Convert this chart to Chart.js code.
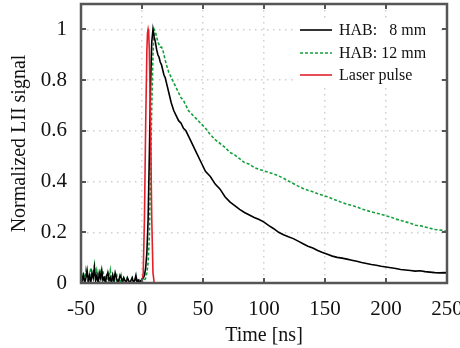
<!DOCTYPE html>
<html>
<head>
<meta charset="utf-8">
<script src="https://cdn.jsdelivr.net/npm/chart.js@4.4.1/dist/chart.umd.min.js"></script>
<style>
  html, body { margin: 0; padding: 0; background: #fff; }
</style>
</head>
<body>
<canvas id="lii-chart" width="460" height="348"></canvas>
<script>
// time axis shared by the two LII curves [ns]
const timeNs = [
  -50,-49,-48,-47,-46,-45,-44,-43,-42,-41,
  -40,-39,-38,-37,-36,-35,-34,-33,-32,-31,
  -30,-29,-28,-27,-26,-25,-24,-23,-22,-21,
  -20,-19,-18,-17,-16,-15,-14,-13,-12,-11,
  -10,-9,-8,-7,-6,-5,-4,-3,-2,-1,
  0,1,2,3,4,5,6,7,8,9,
  10,11,12,13,14,15,16,17,18,19,20,
  22,24,26,28,30,32,34,36,38,40,
  44,48,52,56,60,64,68,72,76,80,
  84,88,92,96,100,104,108,112,116,120,
  124,128,132,136,140,144,148,152,156,160,
  164,168,172,176,180,184,188,192,196,200,
  204,208,212,216,220,224,228,232,236,240,
  244,248,250
];

// HAB 8 mm
const hab8 = [
  0.04,0.01,0.03,0.00,0.02,0.05,0.01,0.03,0.00,0.04,
  0.02,0.06,0.01,0.03,0.00,0.04,0.02,0.05,0.01,0.02,
  0.00,0.03,0.04,0.01,0.02,0.00,0.03,0.01,0.04,0.02,
  0.00,0.01,0.03,0.02,0.00,0.02,0.01,0.00,0.02,0.01,
  0.00,0.01,0.02,0.00,0.01,0.03,0.00,0.01,0.00,0.01,
  0.01,0.02,0.03,0.06,0.12,0.25,0.50,0.78,0.95,1.00,
  0.97,0.95,0.92,0.90,0.89,0.87,0.86,0.84,0.82,0.81,0.79,
  0.75,0.71,0.68,0.66,0.64,0.63,0.61,0.60,0.58,0.56,
  0.52,0.48,0.44,0.42,0.39,0.37,0.34,0.32,0.305,0.29,
  0.278,0.268,0.258,0.25,0.24,0.226,0.214,0.20,0.19,0.182,
  0.175,0.165,0.155,0.145,0.138,0.128,0.12,0.113,0.106,0.101,
  0.098,0.094,0.09,0.086,0.081,0.077,0.073,0.07,0.066,0.063,
  0.06,0.057,0.053,0.051,0.049,0.047,0.048,0.045,0.043,0.041,
  0.04,0.041,0.04
];

// HAB 12 mm
const hab12 = [
  0.03,0.02,0.04,0.01,0.05,0.02,0.00,0.03,0.06,0.02,
  0.04,0.07,0.01,0.05,0.03,0.00,0.04,0.02,0.05,0.01,
  0.03,0.00,0.04,0.02,0.05,0.01,0.03,0.00,0.02,0.04,
  0.01,0.02,0.00,0.03,0.01,0.02,0.00,0.01,0.02,0.00,
  0.01,0.00,0.02,0.01,0.00,0.01,0.02,0.00,0.01,0.00,
  0.00,0.00,0.01,0.02,0.04,0.08,0.18,0.42,0.70,0.90,
  1.00,0.99,0.97,0.95,0.94,0.93,0.93,0.92,0.90,0.88,0.86,
  0.83,0.81,0.79,0.77,0.75,0.73,0.72,0.70,0.68,0.67,
  0.65,0.63,0.61,0.585,0.565,0.55,0.535,0.515,0.505,0.49,
  0.475,0.468,0.455,0.448,0.442,0.436,0.43,0.422,0.413,0.402,
  0.392,0.382,0.373,0.366,0.36,0.352,0.346,0.34,0.332,0.325,
  0.317,0.311,0.306,0.30,0.292,0.286,0.281,0.276,0.271,0.265,
  0.26,0.252,0.247,0.241,0.236,0.228,0.226,0.221,0.216,0.211,
  0.209,0.206,0.205
];

// laser pulse
const laserTime = [-50, 0, 1, 2, 3, 4, 4.5, 5, 5.5, 6, 7, 8, 9, 10, 250];
const laserPulse = [0, 0, 0.04, 0.25, 0.62, 0.92, 0.985, 1.0, 0.985, 0.92, 0.62, 0.25, 0.04, 0, 0];

const xTicks = [-50, 0, 50, 100, 150, 200, 250];
const yTicks = [0, 0.2, 0.4, 0.6, 0.8, 1];

const SERIF = "'Liberation Serif', 'DejaVu Serif', serif";

const toPoints = (xs, ys) => xs.map((x, i) => ({ x: x, y: ys[i] }));

// no extra room for overhanging tick labels, the plot box is fixed
const noPad = s => { s.paddingLeft = 0; s.paddingRight = 0; s.paddingTop = 0; s.paddingBottom = 0; };

// frame with inward ticks on all four sides
const framePlugin = {
    id: 'framePlugin',
    afterDatasetsDraw(chart) {
        const { ctx, chartArea: a, scales } = chart;
        const len = 5;
        ctx.save();
        ctx.strokeStyle = '#555';
        ctx.lineWidth = 2;
        ctx.beginPath();
        scales.x.ticks.forEach(t => {
            const px = Math.round(scales.x.getPixelForValue(t.value));
            ctx.moveTo(px, a.bottom); ctx.lineTo(px, a.bottom - len);
            ctx.moveTo(px, a.top); ctx.lineTo(px, a.top + len);
        });
        scales.y.ticks.forEach(t => {
            const py = Math.round(scales.y.getPixelForValue(t.value));
            ctx.moveTo(a.left, py); ctx.lineTo(a.left + len, py);
            ctx.moveTo(a.right, py); ctx.lineTo(a.right - len, py);
        });
        ctx.stroke();
        ctx.lineWidth = 2.5;
        ctx.strokeRect(a.left, a.top, a.right - a.left, a.bottom - a.top);
        ctx.restore();
    }
};

// legend drawn in the top right corner of the plot, on a white box
const legendPlugin = {
    id: 'legendPlugin',
    afterDraw(chart) {
        const { ctx } = chart;
        const rows = [30, 53, 75];
        ctx.save();
        ctx.fillStyle = '#fff';
        ctx.fillRect(296, 19, 145, 68);
        ctx.font = '16px ' + SERIF;
        ctx.textBaseline = 'middle';
        ctx.fillStyle = '#111';
        chart.data.datasets.forEach((ds, i) => {
            const y = rows[i];
            ctx.beginPath();
            ctx.strokeStyle = ds.borderColor;
            ctx.lineWidth = ds.borderWidth;
            ctx.setLineDash(ds.borderDash || []);
            ctx.moveTo(300, y);
            ctx.lineTo(332, y);
            ctx.stroke();
            ctx.setLineDash([]);
            ctx.fillText(ds.label, 339, y + 1);
        });
        ctx.restore();
    }
};

new Chart(document.getElementById('lii-chart'), {
    type: 'line',
    data: {
        datasets: [
            {
                label: 'HAB:   8 mm',
                data: toPoints(timeNs, hab8),
                borderColor: '#000000',
                borderWidth: 1.6,
                pointRadius: 0,
                order: 1
            },
            {
                label: 'HAB: 12 mm',
                data: toPoints(timeNs, hab12),
                borderColor: '#14a03c',
                borderWidth: 1.6,
                borderDash: [3, 2],
                pointRadius: 0,
                order: 2
            },
            {
                label: 'Laser pulse',
                data: toPoints(laserTime, laserPulse),
                borderColor: '#e3202a',
                borderWidth: 1.6,
                pointRadius: 0,
                order: 0
            }
        ]
    },
    options: {
        responsive: false,
        animation: false,
        events: [],
        layout: { padding: { left: 0, right: 13, top: 4, bottom: 0 } },
        plugins: {
            legend: { display: false },
            tooltip: { enabled: false }
        },
        scales: {
            x: {
                type: 'linear',
                min: -50,
                max: 250,
                afterBuildTicks: s => { s.ticks = xTicks.map(v => ({ value: v })); },
                afterFit: s => { s.height = 65; noPad(s); },
                ticks: {
                    color: '#111',
                    font: { family: SERIF, size: 21 },
                    padding: 14,
                    maxRotation: 0,
                    autoSkip: false,
                    callback: v => String(v)
                },
                grid: { color: '#cfcfcf', lineWidth: 1.5, drawTicks: false },
                border: { display: false, dash: [1.5, 4.5] },
                title: {
                    display: true,
                    text: 'Time [ns]',
                    color: '#111',
                    font: { family: SERIF, size: 20 },
                    padding: { top: 0, bottom: 0 }
                }
            },
            y: {
                min: 0,
                max: 1.1,
                afterBuildTicks: s => { s.ticks = yTicks.map(v => ({ value: v })); },
                afterFit: s => { s.width = 81; noPad(s); },
                ticks: {
                    color: '#111',
                    font: { family: SERIF, size: 21 },
                    padding: 14,
                    autoSkip: false,
                    callback: v => String(+v.toFixed(1))
                },
                grid: { color: '#cfcfcf', lineWidth: 1.5, drawTicks: false },
                border: { display: false, dash: [1.5, 4.5] },
                title: {
                    display: true,
                    text: 'Normalized LII signal',
                    color: '#111',
                    font: { family: SERIF, size: 20 },
                    padding: { top: 8, bottom: 0 }
                }
            }
        }
    },
    plugins: [framePlugin, legendPlugin]
});
</script>
</body>
</html>
